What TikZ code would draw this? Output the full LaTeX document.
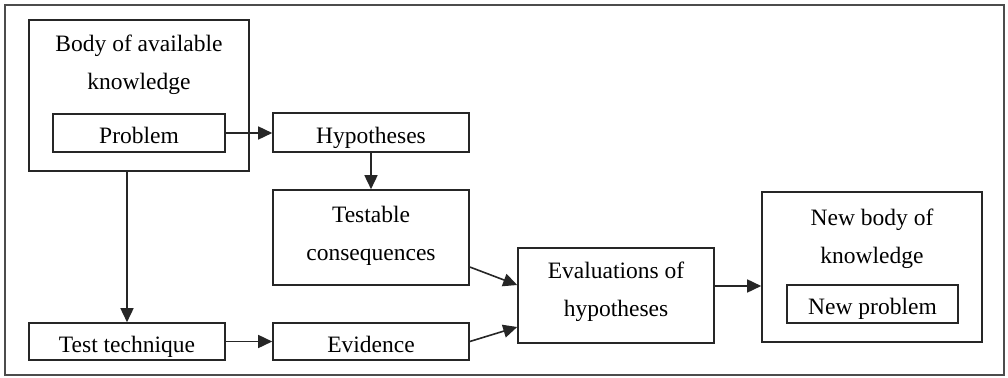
\documentclass[tikz,border=0pt]{standalone}
\usepackage{fontspec}
\setmainfont{Liberation Serif}
\usetikzlibrary{arrows.meta}
\begin{document}
\begin{tikzpicture}[x=1pt,y=-1pt,
  box/.style={draw=black!85, line width=1.6pt, inner sep=0pt, rectangle},
  txt/.style={inner sep=0pt, align=center, font=\fontsize{23.5}{38}\selectfont},
  sline/.style={text height=25pt, text depth=4pt},
  arr/.style={line width=1.6pt, draw=black!85, -{Triangle[length=14pt,width=13pt]}}]
\useasboundingbox (0,0) rectangle (1008,377);
\node[draw=black!70, line width=1.6pt, inner sep=0pt, minimum width=999pt, minimum height=370pt] (frame) at (504.5,190) {};
% boxes
\node[box, minimum width=220pt, minimum height=151pt] (body) at (139,95.5) {};
\node[txt] (bodytxt) at (139,65) {Body of available\\knowledge};
\node[box, minimum width=172pt, minimum height=38pt, txt, sline] (problem) at (139,133) {Problem};
\node[box, minimum width=196pt, minimum height=39pt, txt, sline] (hyp) at (371,132.5) {Hypotheses};
\node[box, minimum width=196pt, minimum height=95pt] (testable) at (371,237.5) {};
\node[txt] (testabletxt) at (371,236) {Testable\\consequences};
\node[box, minimum width=196pt, minimum height=37pt, txt, sline] (testtech) at (127,341.5) {Test technique};
\node[box, minimum width=196pt, minimum height=37pt, txt, sline] (evidence) at (371,341.5) {Evidence};
\node[box, minimum width=196pt, minimum height=95pt] (eval) at (616,295.5) {};
\node[txt] (evaltxt) at (616,291.5) {Evaluations of\\hypotheses};
\node[box, minimum width=220pt, minimum height=150pt] (newbody) at (872,267) {};
\node[txt] (newbodytxt) at (872,239) {New body of\\knowledge};
\node[box, minimum width=171pt, minimum height=38pt, txt, sline] (newprob) at (872.5,304) {New problem};
% connectors
\coordinate (bodyout) at (testtech.north |- body.south);
\draw[arr] (problem.east) -- (hyp.west |- problem.east);
\draw[arr] (hyp.south) -- (testable.north);
\draw[arr] (bodyout) -- (testtech.north);
\draw[arr] (testtech.east) -- (evidence.west);
\draw[arr] ([yshift=-29.5pt]testable.east) -- ([yshift=10.5pt]eval.west);
\draw[arr] (evidence.east) -- ([yshift=-31.5pt]eval.west);
\coordinate (evalout) at ([yshift=9.5pt]eval.east);
\draw[arr] (evalout) -- (newbody.west |- evalout);
\end{tikzpicture}
\end{document}
